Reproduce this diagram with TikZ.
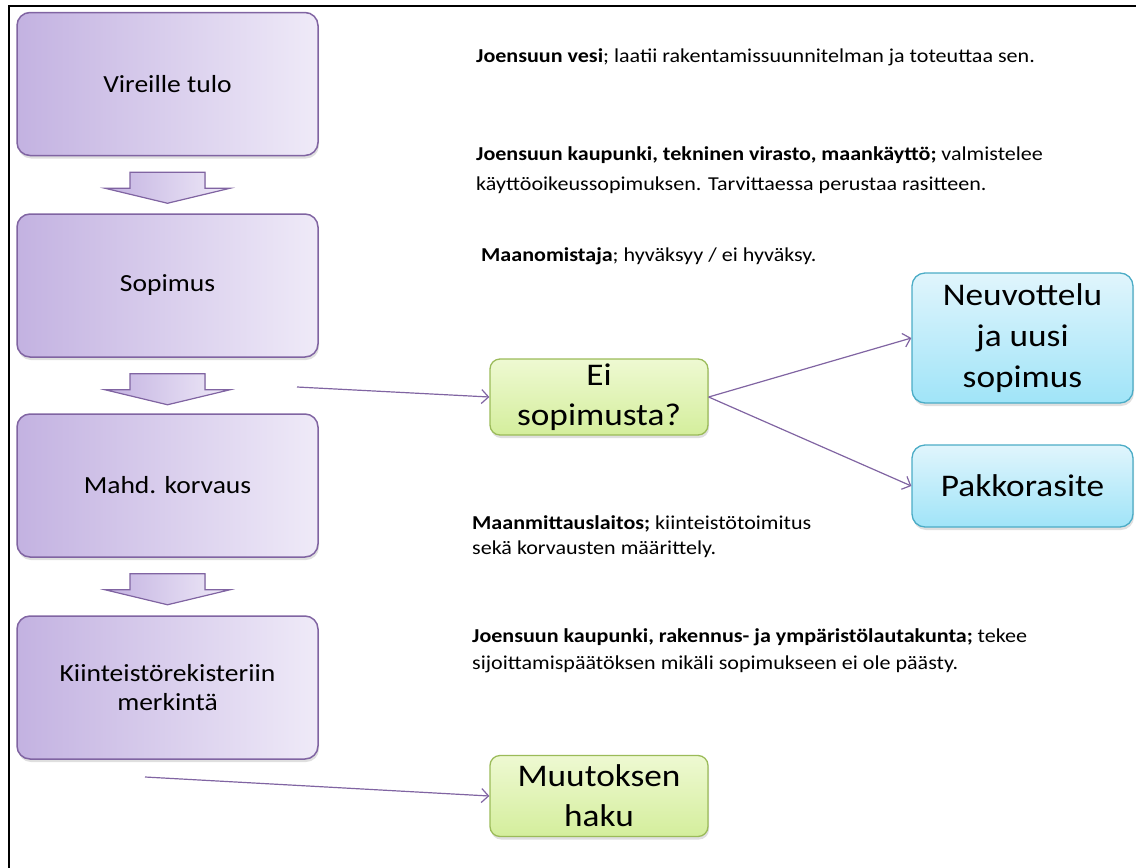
\documentclass[tikz,border=0pt]{standalone}
\usepackage{fontspec}
\setmainfont{Carlito}[FakeStretch=1.12]
\usetikzlibrary{shadows,arrows.meta,calc}
\definecolor{purpleline}{RGB}{128,100,162}
\definecolor{purpleL}{RGB}{195,178,225}
\definecolor{purpleR}{RGB}{239,234,248}
\definecolor{greenline}{RGB}{155,187,89}
\definecolor{greenT}{RGB}{238,249,210}
\definecolor{greenB}{RGB}{212,238,156}
\definecolor{blueline}{RGB}{75,172,198}
\definecolor{blueT}{RGB}{224,245,252}
\definecolor{blueB}{RGB}{160,228,248}
\tikzset{
  stepbox/.style={draw=purpleline, line width=1.5pt, rounded corners=13pt,
    left color=purpleL, right color=purpleR, minimum width=301pt, minimum height=143pt,
    align=center, inner sep=0pt,
    font=\fontsize{24.6}{29}\selectfont,
    drop shadow={opacity=0.25, shadow xshift=1pt, shadow yshift=-3pt}},
  greenbox/.style={draw=greenline, line width=1.3pt, rounded corners=10pt,
    top color=greenT, bottom color=greenB, minimum width=218pt,
    align=center, inner sep=0pt,
    font=\fontsize{31.5}{40}\selectfont,
    drop shadow={opacity=0.25, shadow xshift=1pt, shadow yshift=-3pt}},
  bluebox/.style={draw=blueline, line width=1.3pt, rounded corners=13pt,
    top color=blueT, bottom color=blueB, minimum width=221pt,
    align=center, inner sep=0pt,
    font=\fontsize{31.5}{41}\selectfont,
    drop shadow={opacity=0.25, shadow xshift=1pt, shadow yshift=-3pt}},
  blockarrow/.style={draw=purpleline, line width=1.2pt, left color=purpleL, right color=purpleR},
  conn/.style={draw=purpleline, line width=1.2pt, -{Straight Barb[length=7pt,width=14pt,line width=1.2pt]}},
  note/.style={anchor=base west, inner sep=0pt, font=\fontsize{19.7}{25}\selectfont},
  downarrow/.pic={
    \filldraw[blockarrow] (-37.5,0) -- (37.5,0) -- (37.5,16) -- (62.5,16) -- (0,31)
      -- (-62.5,16) -- (-37.5,16) -- cycle;
  }
}
\begin{document}
\begin{tikzpicture}[x=1pt,y=-1pt]
\useasboundingbox (0,0) rectangle (1136,868);
% frame
\draw[line width=2pt] (8.5,868) -- (8.5,6) -- (1136,6);

% left column
\node[stepbox] (b1) at (167.5,84) {Vireille tulo};
\node[stepbox] (b2) at (167.5,285.5) {Sopimus};
\node[stepbox] (b3) at (167.5,485.5) {Mahd. korvaus};
\node[stepbox] (b4) at (167.5,687.5) {Kiinteistörekisteriin\\merkintä};

\pic at ($(b1.south)+(0,16)$) {downarrow};
\pic at ($(b2.south)+(0,16)$) {downarrow};
\pic at ($(b3.south)+(0,16)$) {downarrow};

% right boxes
\node[greenbox, minimum height=76pt] (ei) at (599,397) {Ei\\sopimusta?};
\node[bluebox, minimum height=130pt] (neu) at (1022.5,338) {Neuvottelu\\ja uusi\\sopimus};
\node[bluebox, minimum height=82pt] (pak) at (1022.5,486) {Pakkorasite};
\node[greenbox, minimum height=81pt] (muu) at (599,796) {Muutoksen\\haku};

% connectors
\coordinate (s1) at (297,387);
\coordinate (s2) at (145,777);
\draw[conn] (s1) -- (ei.west);
\draw[conn] (ei.east) -- (neu.west);
\draw[conn] (ei.east) -- (pak.west);
\draw[conn] (s2) -- (muu.west);

% notes
\node[note] (n1) at (476,62) {\textbf{Joensuun vesi}; laatii rakentamissuunnitelman ja toteuttaa sen.};
\node[note] (n2a) at (476,160) {\textbf{Joensuun kaupunki, tekninen virasto, maankäyttö;} valmistelee};
\node[note] (n2b) at (476,190) {käyttöoikeussopimuksen. Tarvittaessa perustaa rasitteen.};
\node[note] (n3) at (481,261) {\textbf{Maanomistaja}; hyväksyy / ei hyväksy.};
\node[note] (n4a) at (472,529) {\textbf{Maanmittauslaitos;} kiinteistötoimitus};
\node[note] (n4b) at (472,554) {sekä korvausten määrittely.};
\node[note] (n5a) at (472,642) {\textbf{Joensuun kaupunki, rakennus- ja ympäristölautakunta;} tekee};
\node[note] (n5b) at (472,669) {sijoittamispäätöksen mikäli sopimukseen ei ole päästy.};
\end{tikzpicture}
\end{document}
